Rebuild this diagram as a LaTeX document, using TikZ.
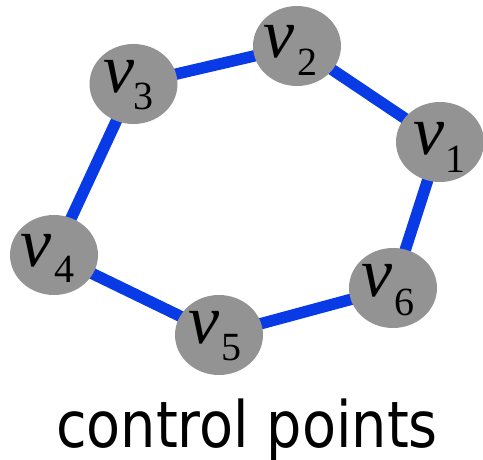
\documentclass[tikz,border=0pt]{standalone}
\usepackage{fontspec}
\usepackage{graphicx}
\setmainfont{Liberation Serif}
\newfontfamily\capfont{DejaVu Sans}
\usetikzlibrary{shapes.geometric,backgrounds,calc}
\definecolor{ptgray}{RGB}{147,147,147}
\definecolor{edgeblue}{RGB}{8,59,229}
\tikzset{
  cpt/.style={ellipse, fill=ptgray, minimum width=88pt, minimum height=80pt, inner sep=0pt},
  edgeline/.style={draw=edgeblue, line width=11.5pt},
  vlab/.style={anchor=base west, inner sep=0pt, font=\fontsize{70}{70}\selectfont\itshape},
  sublab/.style={anchor=base west, inner sep=0pt, font=\fontsize{40}{40}\selectfont},
  captext/.style={anchor=base, inner sep=0pt, font=\capfont\fontsize{64}{64}\selectfont},
}
\begin{document}
\begin{tikzpicture}[x=1pt,y=-1pt]
\useasboundingbox (0,0) rectangle (483,460);
\node[cpt] (v1) at (440,142) {};
\node[cpt] (v2) at (297,46) {};
\node[cpt] (v3) at (133.5,84) {};
\node[cpt] (v4) at (54,255) {};
\node[cpt] (v5) at (219,335) {};
\node[cpt] (v6) at (393,288) {};
\begin{pgfonlayer}{background}
\draw[edgeline] (v1.center) -- (v2.center) -- (v3.center) -- (v4.center) -- (v5.center) -- (v6.center) -- cycle;
\end{pgfonlayer}
\node[vlab] (l1) at ($(v1.center)+(-27,13)$) {v};
\node[sublab] (s1) at ($(v1.center)+(5,31)$) {1};
\node[vlab] (l2) at ($(v2.center)+(-34,12)$) {v};
\node[sublab] (s2) at ($(v2.center)+(0,30)$) {2};
\node[vlab] (l3) at ($(v3.center)+(-30,9)$) {v};
\node[sublab] (s3) at ($(v3.center)+(0,26)$) {3};
\node[vlab] (l4) at ($(v4.center)+(-34,11)$) {v};
\node[sublab] (s4) at ($(v4.center)+(0,28)$) {4};
\node[vlab] (l5) at ($(v5.center)+(-31,8)$) {v};
\node[sublab] (s5) at ($(v5.center)+(2,25)$) {5};
\node[vlab] (l6) at ($(v6.center)+(-32,9)$) {v};
\node[sublab] (s6) at ($(v6.center)+(1,28)$) {6};
\node[captext] (cap) at (247,447) {\scalebox{0.87}[1]{control points}};
\end{tikzpicture}
\end{document}
